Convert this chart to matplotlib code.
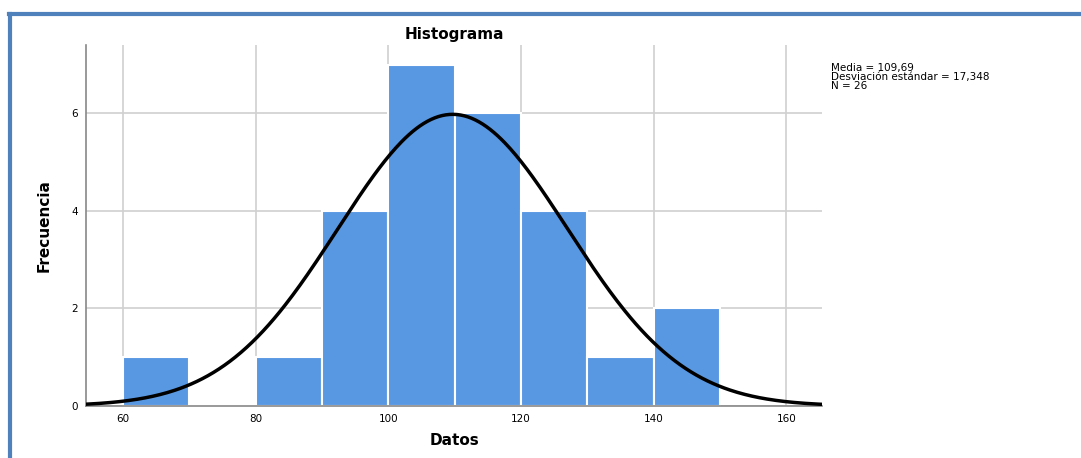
import numpy as np
import matplotlib.pyplot as plt
from matplotlib.lines import Line2D

# Histogram data (bin edges and counts)
bin_left = [60, 70, 80, 90, 100, 110, 120, 130, 140]
counts = [1, 0, 1, 4, 7, 6, 4, 1, 2]
bin_width = 10
media = 109.69
desv = 17.348
n = 26

fig = plt.figure(figsize=(10.81, 4.58), dpi=100)
ax = fig.add_axes([0.0796, 0.1135, 0.6809, 0.7882])

ax.set_axisbelow(True)
ax.grid(True, color="#d0d0d0", linewidth=1.2)
ax.bar(bin_left, counts, width=bin_width, align="edge",
       color="#5898e3", edgecolor="white", linewidth=1.5, zorder=2)

# normal curve scaled to counts
xs = np.linspace(54.4, 165.4, 400)
ys = n * bin_width * np.exp(-0.5 * ((xs - media) / desv) ** 2) / (desv * np.sqrt(2 * np.pi))
ax.plot(xs, ys, color="black", linewidth=2.5, zorder=3)

ax.set_xlim(54.4, 165.4)
ax.set_ylim(0, 7.4)
ax.set_xticks([60, 80, 100, 120, 140, 160])
ax.set_yticks([0, 2, 4, 6])
ax.tick_params(length=0, labelsize=7.5, pad=6)
for s in ["top", "right"]:
    ax.spines[s].set_visible(False)
for s in ["left", "bottom"]:
    ax.spines[s].set_color("#888888")
    ax.spines[s].set_linewidth(1.2)

ax.set_title("Histograma", fontsize=11, fontweight="bold", pad=4)
ax.set_xlabel("Datos", fontsize=11, fontweight="bold", labelpad=6)
ax.set_ylabel("Frecuencia", fontsize=11, fontweight="bold", family="Liberation Sans Narrow", labelpad=14)

fig.text(0.769, 0.862, "Media = 109,69\nDesviación estándar = 17,348\nN = 26",
         fontsize=7.5, va="top", ha="left", linespacing=0.85)

# blue frame of the screenshot
fig.add_artist(Line2D([0.008, 1.0], [0.970, 0.970], color="#4f81bd", linewidth=3, transform=fig.transFigure))
fig.add_artist(Line2D([0.0095, 0.0095], [0.0, 0.970], color="#4f81bd", linewidth=3, transform=fig.transFigure))

fig.savefig("out.png", dpi=100)
